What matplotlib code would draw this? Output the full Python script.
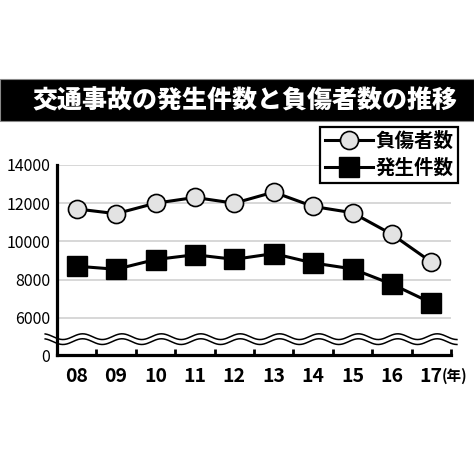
import numpy as np
import matplotlib
matplotlib.use("Agg")
import matplotlib.pyplot as plt
from matplotlib.patches import Rectangle

plt.rcParams['font.family'] = ['Noto Sans CJK JP', 'DejaVu Sans']

# データ
years = ['08', '09', '10', '11', '12', '13', '14', '15', '16', '17']
injured = [11700, 11450, 12000, 12300, 12000, 12580, 11830, 11500, 10370, 8920]
accidents = [8700, 8540, 9050, 9300, 9060, 9360, 8870, 8560, 7760, 6780]
ytick_vals = [6000, 8000, 10000, 12000, 14000]
y_zero_pos = 4050  # 省略後の「0」の位置

fig = plt.figure(figsize=(4.74, 4.74), dpi=100)
fig.patch.set_facecolor('white')

# タイトル帯
fig.patches.append(Rectangle((0, 1 - 121 / 474), 1, 42 / 474, transform=fig.transFigure,
                             facecolor='black', edgecolor='#888888', lw=0.8))
fig.text(0.517, 1 - 100 / 474, '交通事故の発生件数と負傷者数の推移', color='white',
         fontsize=18, fontweight='heavy', ha='center', va='center')

ax = fig.add_axes([57 / 474, 1 - 355 / 474, 394 / 474, 190 / 474])
x = np.arange(len(years))

for v in ytick_vals:
    ax.axhline(v, color='#d4d4d4', lw=1.3, zorder=0)

ax.plot(x, injured, color='black', lw=2.2, marker='o', markersize=13,
        markerfacecolor='#e3e3e3', markeredgecolor='black', markeredgewidth=1.2,
        label='負傷者数', clip_on=False, zorder=3)
ax.plot(x, accidents, color='black', lw=2.2, marker='s', markersize=14,
        markerfacecolor='black', markeredgecolor='black',
        label='発生件数', clip_on=False, zorder=3)

ax.set_xlim(-0.5, 9.5)
ax.set_ylim(y_zero_pos, 14000)

for s in ['top', 'right']:
    ax.spines[s].set_visible(False)
for s in ['left', 'bottom']:
    ax.spines[s].set_linewidth(2.3)

ax.set_yticks([y_zero_pos] + ytick_vals)
ax.set_yticklabels(['0'] + [str(v) for v in ytick_vals], fontsize=11.5)
ax.tick_params(axis='y', length=0, pad=5)

ax.set_xticks(x)
ax.set_xticklabels(years, fontsize=14, fontweight='bold')
ax.set_xticks(np.arange(0.5, 10, 1), minor=True)
ax.tick_params(axis='x', which='major', length=0, pad=9)
ax.tick_params(axis='x', which='minor', direction='in', length=4, width=2)

# (年)
ax.text(9.27, -0.112, '(年)', transform=ax.get_xaxis_transform(), fontsize=10.5,
        fontweight='bold', ha='left', va='center')

# 省略の波線
wx = np.linspace(-0.8, 9.65, 400)
wave = 150 * np.sin(2 * np.pi * (wx + 0.1))
ax.fill_between(wx, 4760 + wave, 5000 + wave, color='white', clip_on=False, zorder=2)
ax.plot(wx, 5010 + wave, color='black', lw=1.1, clip_on=False, zorder=2)
ax.plot(wx, 4750 + wave, color='black', lw=1.1, clip_on=False, zorder=2)

leg = ax.legend(loc='upper right', bbox_to_anchor=(458 / 474, 1 - 127 / 474),
                bbox_transform=fig.transFigure, fancybox=False, framealpha=1,
                edgecolor='black', prop={'size': 14, 'weight': 'bold'},
                handlelength=2.5, handletextpad=0.1, borderpad=0.25,
                labelspacing=0.4, borderaxespad=0)
leg.get_frame().set_linewidth(1.6)

fig.savefig('out.png', dpi=100)
